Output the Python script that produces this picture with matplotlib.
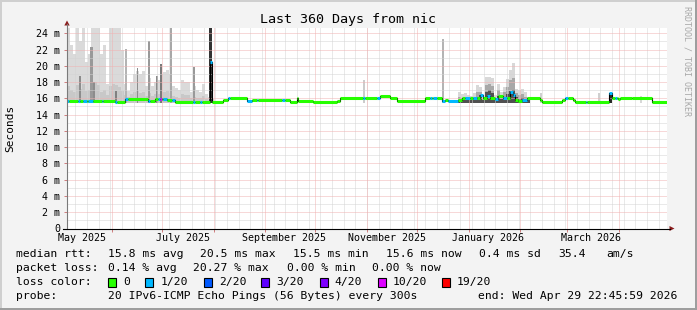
import numpy as np
import pandas as pd
import matplotlib
matplotlib.use('Agg')
import matplotlib.pyplot as plt
from matplotlib.patches import Rectangle, Polygon
from matplotlib.lines import Line2D

W, H = 697, 310
MONO = 'DejaVu Sans Mono'

# ---------------- data ----------------
start = pd.Timestamp('2025-05-04 22:46')
span_days = 360
y_max = 24.68

y_ticks = [0, 2, 4, 6, 8, 10, 12, 14, 16, 18, 20, 22, 24]
y_labels = ['0', '2 m', '4 m', '6 m', '8 m', '10 m', '12 m', '14 m', '16 m',
            '18 m', '20 m', '22 m', '24 m']

x_label_days = [9.0, 69.3, 130.5, 191.8, 252.6, 314.6]
x_labels = ['May 2025', 'July 2025', 'September 2025', 'November 2025',
            'January 2026', 'March 2026']

month_starts = pd.date_range('2025-06-01', '2026-04-01', freq='MS')
week_lines = pd.date_range('2025-05-10', '2026-04-29', freq='7D')

loss_levels = ['0', '1/20', '2/20', '3/20', '4/20', '10/20', '19/20']
loss_colors = ['#26ff00', '#00b8ff', '#0059ff', '#5e00ff', '#7e00ff', '#dd00ff', '#ff0000']

# median rtt (ms), piecewise constant from med_day[i] to med_day[i+1]
med_day = [0, 1.2, 6.6, 7.8, 9.6, 12.0, 12.6, 15.6, 21.0, 21.8,
           28.8, 30.0, 34.8, 36.6, 48.6, 49.5, 52.8, 54.6, 55.8, 57.0,
           57.6, 59.8, 63.0, 64.8, 75.6, 76.8, 79.8, 81.0, 85.8, 86.8,
           93.8, 96.8, 97.8, 107.8, 110.8, 114.0, 114.8, 129.0, 130.8, 133.8,
           137.8, 138.8, 147.8, 161.8, 163.8, 177.6, 178.8, 185.8, 187.8, 193.8,
           197.8, 214.8, 217.8, 218.8, 219.8, 221.8, 225.2, 226.8, 228.8, 234.8,
           236.8, 238.8, 241.8, 243.8, 245.8, 247.8, 249.8, 251.8, 253.8, 256.8,
           258.8, 261.8, 263.8, 265.8, 267.8, 268.8, 270.8, 272.8, 275.8, 283.8,
           284.8, 296.8, 298.8, 300.8, 303.8, 304.8, 311.4, 312.2, 325.4, 326.8,
           328.8, 329.8, 330.8, 331.8, 338.8, 350.8]
med_val = [15.68, 15.68, 15.68, 15.68, 15.66, 15.66, 15.66, 15.66, 15.66, 15.66,
           15.60, 15.60, 15.92, 15.92, 15.70, 15.70, 15.92, 15.92, 15.92, 15.92,
           15.92, 15.80, 15.80, 15.58, 15.58, 15.58, 15.58, 15.58, 20.50, 15.58,
           15.80, 16.08, 16.08, 15.67, 15.80, 15.80, 15.80, 15.80, 15.80, 15.58,
           16.05, 15.68, 15.58, 15.65, 16.00, 16.00, 16.00, 16.10, 16.32, 16.00,
           15.67, 16.05, 16.05, 16.05, 16.05, 16.05, 15.67, 15.80, 15.70, 15.80,
           16.00, 16.00, 16.00, 16.10, 16.00, 16.45, 16.00, 16.30, 16.10, 15.90,
           16.30, 16.10, 16.00, 16.75, 16.40, 15.80, 15.67, 15.80, 16.00, 15.80,
           15.58, 15.85, 16.10, 16.00, 15.80, 15.58, 15.58, 15.58, 16.60, 16.00,
           16.00, 16.00, 15.95, 16.10, 16.00, 15.60]
med_loss = [1, 0, 1, 0, 1, 0, 1, 0, 1, 0,
            1, 0, 1, 0, 1, 0, 0, 1, 5, 0,
            1, 0, 1, 0, 1, 0, 1, 0, 1, 0,
            0, 1, 0, 1, 0, 1, 0, 1, 0, 0,
            0, 0, 0, 0, 0, 1, 0, 1, 0, 0,
            0, 0, 1, 0, 1, 0, 1, 0, 1, 0,
            0, 1, 0, 1, 0, 1, 0, 1, 0, 1,
            0, 1, 0, 1, 1, 0, 0, 1, 0, 0,
            0, 0, 1, 0, 0, 0, 1, 0, 1, 0,
            1, 0, 0, 0, 0, 0]

# smoke (ping spread), binned
smoke_floor = 15.45
smoke_bin = 1.8
smoke1_start = 0.0
smoke1_max = [24.7, 22.5, 21.5, 24.7, 23.0, 24.7, 20.5, 21.5, 24.7, 24.7,
              24.7, 21.5, 22.5, 17.7, 24.7, 24.7, 24.7, 24.7, 22.0, 17.8,
              16.9, 18.0, 19.0, 19.4, 19.0, 19.3, 17.5, 18.5, 17.5, 18.0,
              18.2, 19.0, 19.2, 19.5, 19.0, 17.5, 17.3, 17.0, 18.2, 18.0,
              18.0, 16.8, 17.5, 17.0, 16.8, 17.8, 16.5, 16.2, 15.9]
smoke1_mid = [17.5, 17.0, 16.8, 17.6, 17.2, 17.8, 16.9, 17.0, 17.8, 18.0,
              17.6, 16.8, 17.0, 16.4, 17.5, 17.8, 17.6, 17.4, 16.9, 16.4,
              16.2, 16.5, 16.8, 16.9, 16.7, 16.8, 16.3, 16.6, 16.3, 16.5,
              16.5, 16.8, 16.8, 16.9, 16.7, 16.3, 16.2, 16.1, 16.5, 16.4,
              16.4, 16.0, 16.2, 16.1, 16.0, 16.3, 15.9, 15.8, 15.7]
smoke2_start = 234.6
smoke2_max = [16.8, 16.5, 16.7, 16.4, 16.3, 16.6, 17.6, 17.4, 16.2, 18.65,
              18.65, 18.5, 16.4, 17.8, 16.8, 17.4, 18.4, 19.5, 20.3, 17.2,
              17.0, 17.2, 16.8, 16.2]
smoke2_mid = [16.2, 16.1, 16.2, 16.0, 16.0, 16.2, 16.8, 16.8, 15.9, 17.6,
              17.8, 17.5, 16.0, 17.0, 16.3, 16.8, 17.4, 18.2, 18.5, 16.6,
              16.4, 16.5, 16.2, 15.9]
smoke2_dark = [15.8, 15.8, 15.8, 15.8, 15.8, 15.9, 16.2, 16.4, 15.8, 16.8,
               17.0, 16.6, 15.8, 16.3, 15.9, 16.2, 16.5, 16.9, 17.0, 16.2,
               15.9, 16.0, 15.9, 15.8]

spike_day = [6.9, 13.8, 15.8, 28.8, 34.8, 41.8, 48.4, 53.4, 55.8, 61.8,
             75.4, 85.2, 177.6, 225.2, 283.8, 318.8, 325.2, 343.8]
spike_width = [1.2, 1.6, 1.0, 1.0, 1.2, 0.6, 1.4, 1.4, 1.2, 1.2,
               1.4, 1.6, 1.2, 0.8, 1.2, 1.0, 1.6, 1.0]
spike_top = [18.7, 22.3, 18.0, 16.9, 22.1, 19.7, 23.1, 18.7, 20.2, 24.7,
             19.9, 24.7, 18.2, 23.3, 16.6, 16.6, 16.6, 16.3]
spike_shade = ['#8c8c8c', '#999999', '#8c8c8c', '#808080', '#b4b4b4', '#8c8c8c',
               '#999999', '#8c8c8c', '#7a7a7a', '#a8a8a8', '#999999', '#333333',
               '#cccccc', '#b4b4b4', '#d0d0d0', '#d0d0d0', '#2a2a2a', '#d8d8d8']

title = 'Last 360 Days from nic'
row_rtt = [(15.6, 'median rtt:'), (107.6, '15.8 ms avg'), (200.0, '20.5 ms max'),
           (293.3, '15.5 ms min'), (385.8, '15.6 ms now'), (479.0, '0.4 ms sd'),
           (557.8, '35.4'), (606.7, 'am/s')]
row_loss = [(15.6, 'packet loss:'), (107.6, '0.14 % avg'), (193.3, '20.27 % max'),
            (286.7, '0.00 % min'), (372.4, '0.00 % now')]
swatch_x = [108.0, 145.3, 203.6, 261.3, 320.0, 377.8, 442.2]
swatch_label_x = [123.6, 160.9, 218.7, 276.4, 334.2, 392.4, 456.4]
row_probe = [(15.6, 'probe:'), (107.6, '20 IPv6-ICMP Echo Pings (56 Bytes) every 300s'),
             (477.8, 'end: Wed Apr 29 22:45:59 2026')]

# ---------------- figure ----------------
fig = plt.figure(figsize=(W / 100, H / 100), dpi=100)
fig.patch.set_facecolor('#f3f3f3')


def fx(px):
    return px / W


def fy(py):
    return 1 - py / H


# frame shading
fig.add_artist(Rectangle((0, fy(2)), 1, 2 / H, transform=fig.transFigure, color='#cfcfcf', lw=0))
fig.add_artist(Rectangle((0, 0), 2 / W, 1, transform=fig.transFigure, color='#cfcfcf', lw=0))
fig.add_artist(Rectangle((0, 0), 1, 2 / H, transform=fig.transFigure, color='#9e9e9e', lw=0))
fig.add_artist(Rectangle((fx(W - 2), 0), 2 / W, 1, transform=fig.transFigure, color='#9e9e9e', lw=0))

ax_left, ax_right, ax_top, ax_bot = 67, 667, 27.7, 228.5
ax = fig.add_axes([fx(ax_left), fy(ax_bot), (ax_right - ax_left) / W, (ax_bot - ax_top) / H])
ax.set_facecolor('white')
ax.set_xlim(0, span_days)
ax.set_ylim(0, y_max)
for s in ax.spines.values():
    s.set_visible(False)

# grid (RRDtool style dotted)
month_days = [(d - start).total_seconds() / 86400 for d in month_starts]
week_days = [(d - start).total_seconds() / 86400 for d in week_lines]
gkw = dict(lw=0.72, ls=(0, (1, 1)), zorder=3)
for v in range(1, 25, 2):
    ax.axhline(v, color='#d4d4d4', **gkw)
for v in week_days:
    ax.axvline(v, color='#d4d4d4', **gkw)
for v in y_ticks[1:]:
    ax.axhline(v, color='#f0b2b2', **gkw)
for v in month_days:
    ax.axvline(v, color='#f0b2b2', **gkw)

# smoke
e1 = smoke1_start + np.arange(len(smoke1_max) + 1) * smoke_bin
ax.stairs(smoke1_max, e1, baseline=smoke_floor, fill=True, color='#dadada', zorder=1)
ax.stairs(smoke1_mid, e1, baseline=smoke_floor, fill=True, color='#c8c8c8', zorder=1.1)
e2 = smoke2_start + np.arange(len(smoke2_max) + 1) * smoke_bin
ax.stairs(smoke2_max, e2, baseline=smoke_floor, fill=True, color='#d8d8d8', zorder=1)
ax.stairs(smoke2_mid, e2, baseline=smoke_floor, fill=True, color='#a8a8a8', zorder=1.1)
ax.stairs(smoke2_dark, e2, baseline=smoke_floor, fill=True, color='#505050', zorder=1.2)
ax.bar(spike_day, np.array(spike_top) - smoke_floor, bottom=smoke_floor, width=spike_width,
       align='edge', color=spike_shade, lw=0, zorder=1.5)

# median
md = np.array(med_day + [span_days])
mv = np.array(med_val + [med_val[-1]])
ax.step(md, mv, where='post', color='black', lw=0.8, zorder=4)
ax.hlines(med_val, md[:-1], md[1:], colors=[loss_colors[i] for i in med_loss],
          lw=2.2, zorder=5, capstyle='butt')

# ticks
ax.set_yticks(y_ticks, y_labels)
ax.tick_params(axis='y', length=2.2, width=0.72, color='#d08080', pad=2.6,
               labelsize=7.2, labelfontfamily=MONO)
ax.set_xticks(x_label_days, x_labels)
ax.tick_params(axis='x', which='major', length=0, pad=3.2, labelsize=7.2, labelfontfamily=MONO)
ax.set_xticks(month_days, minor=True)
ax.tick_params(axis='x', which='minor', length=2, width=0.72, color='#d08080')

# axis lines and arrows
fig.add_artist(Line2D([fx(67), fx(67)], [fy(228.5), fy(24)], transform=fig.transFigure,
                      color='#7a7a7a', lw=0.8))
fig.add_artist(Line2D([fx(63), fx(670)], [fy(228.5), fy(228.5)], transform=fig.transFigure,
                      color='black', lw=0.8))
fig.add_artist(Polygon([[fx(64.3), fy(25.5)], [fx(69.7), fy(25.5)], [fx(67), fy(20.5)]],
                       closed=True, transform=fig.transFigure, color='#8b1c1c', lw=0))
fig.add_artist(Polygon([[fx(669.5), fy(226)], [fx(669.5), fy(231)], [fx(674.5), fy(228.5)]],
                       closed=True, transform=fig.transFigure, color='#8b1c1c', lw=0))

# texts
fig.text(fx(348), fy(19), title, ha='center', va='center', family=MONO, size=9.6)
fig.text(fx(10), fy(128), 'Seconds', rotation=90, ha='center', va='center', family=MONO, size=8.0)
fig.text(fx(687), fy(61), 'RRDTOOL / TOBI OETIKER', rotation=270, ha='center', va='center',
         family=MONO, size=6.0, color='#a8a8a8')

LS = 8.2
for x, t in row_rtt:
    fig.text(fx(x), fy(254.3), t, ha='left', va='center', family=MONO, size=LS)
for x, t in row_loss:
    fig.text(fx(x), fy(268.3), t, ha='left', va='center', family=MONO, size=LS)
fig.text(fx(15.6), fy(282.4), 'loss color:', ha='left', va='center', family=MONO, size=LS)
for sx, lx, lab, col in zip(swatch_x, swatch_label_x, loss_levels, loss_colors):
    fig.add_artist(Rectangle((fx(sx), fy(286.5)), 8 / W, 8.5 / H, transform=fig.transFigure,
                             facecolor=col, edgecolor='black', lw=0.8))
    fig.text(fx(lx), fy(282.4), lab, ha='left', va='center', family=MONO, size=LS)
for x, t in row_probe:
    fig.text(fx(x), fy(296.3), t, ha='left', va='center', family=MONO, size=LS)

fig.savefig('out.png', dpi=100, facecolor=fig.get_facecolor())
